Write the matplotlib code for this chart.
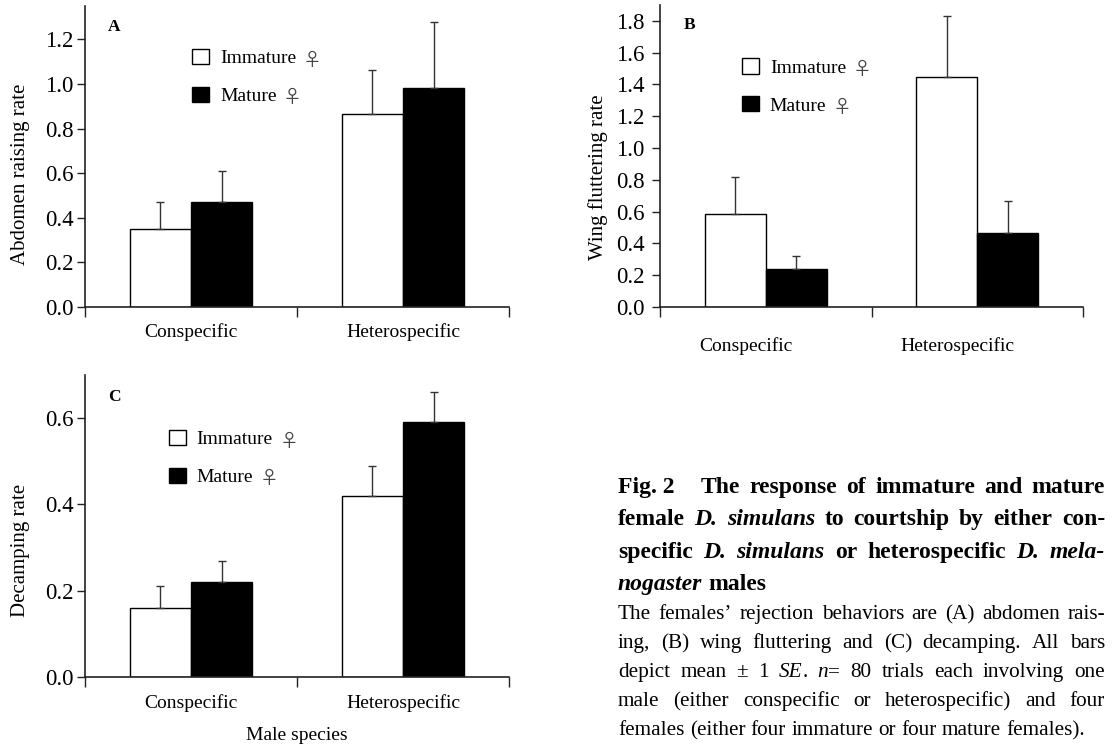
import numpy as np
import matplotlib
matplotlib.use("Agg")
import matplotlib.pyplot as plt
from matplotlib.patches import Patch
from matplotlib.ticker import FormatStrFormatter

plt.rcParams["font.family"] = ["Liberation Serif", "Noto Sans CJK SC", "DejaVu Sans"]

W, H = 1117, 749

groups = ["Conspecific", "Heterospecific"]
legend_labels = ["Immature", "Mature"]
FEMALE = "\u2640"

# A: abdomen raising rate (mean, +1 SE)
a_immature = [0.35, 0.865]
a_mature = [0.47, 0.98]
a_immature_se = [0.12, 0.20]
a_mature_se = [0.14, 0.30]

# B: wing fluttering rate
b_immature = [0.585, 1.45]
b_mature = [0.24, 0.465]
b_immature_se = [0.23, 0.38]
b_mature_se = [0.08, 0.20]

# C: decamping rate
c_immature = [0.16, 0.42]
c_mature = [0.22, 0.59]
c_immature_se = [0.05, 0.07]
c_mature_se = [0.05, 0.07]

caption_bold = [
    "Fig.~2 The response of immature and mature",
    "female _D._ _simulans_ to courtship by either con-",
    "specific _D._ _simulans_ or heterospecific _D._ _mela-_",
    "_nogaster_ males",
]
caption_text = [
    "The females\u2019 rejection behaviors are (A) abdomen rais-",
    "ing, (B) wing fluttering and (C) decamping. All bars",
    "depict mean \u00b1 1 _SE_. _n_= 80 trials each involving one",
    "male (either conspecific or heterospecific) and four",
    "females (either four immature or four mature females).",
]

BAR_W = 0.288
AXIS_COLOR = "#222222"

fig = plt.figure(figsize=(W / 100, H / 100), dpi=100)


def px_axes(left, right, zero, top):
    return fig.add_axes([left / W, 1 - zero / H, (right - left) / W, (zero - top) / H])


def draw_panel(ax, imm, mat, imm_se, mat_se, ymax, yticks, ylabel, letter,
               ylabel_xy, leg_xy, cat_pad, cat_shift=0.0, ytick_pad=2):
    x = np.arange(len(groups)) + 0.5
    ax.bar(x - BAR_W / 2, imm, BAR_W, color="white", edgecolor="black", linewidth=1.0, zorder=2)
    ax.bar(x + BAR_W / 2, mat, BAR_W, color="black", edgecolor="black", linewidth=1.0, zorder=2)
    for xs, v, se in ((x - BAR_W / 2, imm, imm_se), (x + BAR_W / 2, mat, mat_se)):
        ax.errorbar(xs, v, yerr=[np.zeros(len(se)), se], fmt="none", ecolor="#333333",
                    elinewidth=1.0, capsize=3.2, capthick=1.0, zorder=3)

    ax.set_xlim(0, 2)
    ax.set_ylim(0, ymax)
    ax.set_yticks(yticks)
    ax.yaxis.set_major_formatter(FormatStrFormatter("%.1f"))
    ax.set_xticks([0, 1, 2])
    ax.set_xticklabels([])
    ax.set_xticks(x + cat_shift, minor=True)
    ax.set_xticklabels(groups, minor=True, fontsize=14)
    ax.tick_params(axis="x", which="major", direction="out", length=7.5, width=1.0, color=AXIS_COLOR)
    ax.tick_params(axis="x", which="minor", length=0, pad=cat_pad)
    ax.tick_params(axis="y", direction="out", length=6, width=1.0, color=AXIS_COLOR,
                   labelsize=16.5, pad=ytick_pad)
    for s in ("top", "right"):
        ax.spines[s].set_visible(False)
    for s in ("left", "bottom"):
        ax.spines[s].set_linewidth(1.2)
        ax.spines[s].set_color(AXIS_COLOR)

    ax.set_ylabel(ylabel, fontsize=15, va="center")
    ax.yaxis.set_label_coords(*ylabel_xy)
    ax.text(0.055, leg_xy[2], letter, transform=ax.transAxes, fontsize=12.5,
            fontweight="bold", ha="left", va="center")

    handles = [Patch(facecolor="white", edgecolor="black", linewidth=1.0),
               Patch(facecolor="black", edgecolor="black", linewidth=1.0)]
    leg = ax.legend(handles, legend_labels, loc="upper left", bbox_to_anchor=leg_xy[:2],
                    frameon=False, fontsize=14, handlelength=0.88, handleheight=0.82,
                    handletextpad=0.55, labelspacing=1.0, borderpad=0, borderaxespad=0)
    # female sign in a CJK font right after each label; drawn after the legend
    for t in leg.get_texts():
        ax.annotate(FEMALE, xy=(1, 0.42), xycoords=t, xytext=(4.5, 0),
                    textcoords="offset points", fontsize=13.5,
                    family=["Noto Sans CJK SC", "DejaVu Sans"], color="#444444",
                    ha="left", va="center", zorder=10)


# panel A
axA = px_axes(85, 509, 307, 6)
draw_panel(axA, a_immature, a_mature, a_immature_se, a_mature_se, 1.35,
           np.arange(0, 1.21, 0.2), "Abdomen raising rate", "A",
           (-0.153, 0.44), (0.253, 0.857, 0.930), cat_pad=11.5)

# panel B
axB = px_axes(660, 1083, 307, 5)
draw_panel(axB, b_immature, b_mature, b_immature_se, b_mature_se, 1.9,
           np.arange(0, 1.81, 0.2), "Wing fluttering rate", "B",
           (-0.147, 0.43), (0.194, 0.823, 0.934), cat_pad=22,
           cat_shift=-0.095, ytick_pad=5)

# panel C
axC = px_axes(85, 509, 677, 375)
draw_panel(axC, c_immature, c_mature, c_immature_se, c_mature_se, 0.7,
           [0.0, 0.2, 0.4, 0.6], "Decamping rate", "C",
           (-0.153, 0.42), (0.198, 0.818, 0.927), cat_pad=12)
axC.set_xlabel("Male species", fontsize=14, va="center")
axC.xaxis.set_label_coords(0.5, (677 - 735) / 302)

# caption, justified between CAP_L and CAP_R
CAP_L, CAP_R = 618, 1105
renderer = fig.canvas.get_renderer()


def parse(line):
    words = []
    for w in line.split(" "):
        parts = w.replace("~", " ").split("_")
        words.append([(p, i % 2 == 1) for i, p in enumerate(parts) if p])
    return words


def space_width(size, weight):
    t1 = fig.text(0, 0, "a a", fontsize=size, fontweight=weight)
    t2 = fig.text(0, 0, "aa", fontsize=size, fontweight=weight)
    d = t1.get_window_extent(renderer).width - t2.get_window_extent(renderer).width
    t1.remove()
    t2.remove()
    return d


def draw_caption(lines, base0, step, size, weight, first_gap=0.0):
    sp = space_width(size, weight)
    for li, line in enumerate(lines):
        words = parse(line)
        y = 1 - (base0 + li * step) / H
        placed = []
        total = 0.0
        for runs in words:
            items = []
            for s, ital in runs:
                t = fig.text(0, y, s, fontsize=size, fontweight=weight,
                             fontstyle="italic" if ital else "normal",
                             ha="left", va="baseline")
                w = t.get_window_extent(renderer).width
                items.append((t, w))
                total += w
            placed.append(items)
        extra = first_gap if li == 0 else 0.0
        if li < len(lines) - 1 and len(placed) > 1:
            gap = (CAP_R - CAP_L - total - extra) / (len(placed) - 1)
        else:
            gap = sp
        xpos = CAP_L
        for wi, items in enumerate(placed):
            for t, w in items:
                t.set_x(xpos / W)
                xpos += w
            xpos += gap
            if wi == 0:
                xpos += extra


draw_caption(caption_bold, 493, 32.3, 17, "bold", first_gap=17)
draw_caption(caption_text, 619, 29, 15.3, "normal")

fig.savefig("out.png", dpi=100)
